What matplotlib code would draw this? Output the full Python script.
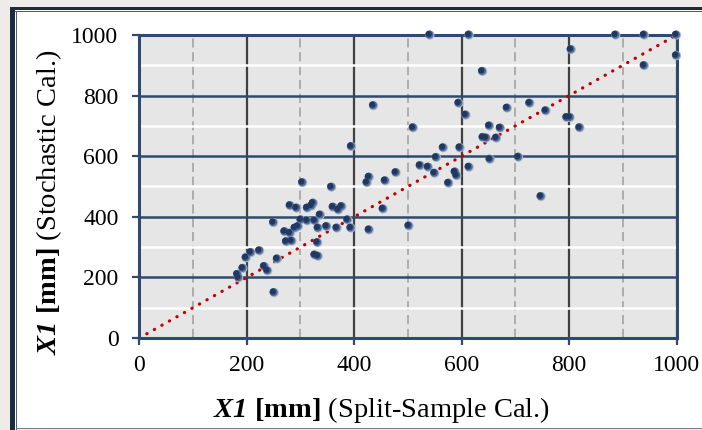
import matplotlib
matplotlib.use("Agg")
import matplotlib.pyplot as plt
from matplotlib.patches import Rectangle
from matplotlib.transforms import offset_copy
import numpy as np

# X1 from split-sample calibration vs X1 from stochastic calibration [mm]
split_x = np.array([183, 185, 193, 199, 208, 224, 233, 239, 251, 257,
                    250, 271, 281, 274, 284, 281, 293, 304, 313, 321,
                    324, 301, 313, 327, 337, 296, 290, 333, 349, 368,
                    332, 327, 333, 361, 377, 371, 358, 388, 394, 428,
                    502, 454, 395, 436, 424, 428, 458, 478, 510, 523,
                    538, 550, 588, 591, 576, 614, 553, 566, 597, 595,
                    608, 652, 672, 640, 646, 665, 653, 685, 706, 727,
                    757, 748, 796, 802, 820, 804, 639, 541, 614, 887,
                    940, 1000, 1000, 940])
stoch_y = np.array([210, 199, 230, 265, 282, 288, 236, 222, 150, 261,
                    381, 351, 346, 318, 320, 437, 429, 513, 429, 436,
                    445, 390, 387, 387, 406, 368, 363, 363, 368, 363,
                    315, 274, 270, 432, 434, 423, 498, 390, 363, 357,
                    370, 426, 632, 767, 513, 531, 519, 546, 694, 569,
                    564, 544, 548, 536, 511, 564, 596, 628, 628, 775,
                    736, 700, 693, 662, 660, 660, 590, 759, 597, 775,
                    750, 467, 728, 728, 694, 952, 880, 1000, 1000, 1000,
                    1000, 1000, 932, 899])
one_to_one = [0, 1000]
major_ticks = [0, 200, 400, 600, 800, 1000]
minor_ticks = [100, 300, 500, 700, 900]

plt.rcParams['font.family'] = 'Liberation Serif'
plt.rcParams['mathtext.fontset'] = 'custom'
plt.rcParams['mathtext.rm'] = 'Liberation Serif'
plt.rcParams['mathtext.bf'] = 'Liberation Serif:bold'
plt.rcParams['mathtext.it'] = 'Liberation Serif:italic'
plt.rcParams['mathtext.bfit'] = 'Liberation Serif:italic:bold'

W, H = 702, 430
fig = plt.figure(figsize=(W / 100, H / 100), dpi=100, facecolor='#EEEBE8')

def px_rect(x0, y0, x1, y1, color):
    # rectangle given in pixel coords (origin top-left)
    fig.add_artist(Rectangle((x0 / W, 1 - y1 / H), (x1 - x0) / W, (y1 - y0) / H,
                             transform=fig.transFigure, facecolor=color,
                             edgecolor='none', zorder=0))

# chart frame
px_rect(10, 7, W + 5, 428.5, 'white')
px_rect(10, 7, W + 5, 10, '#1B2B40')
px_rect(10, 7, 15, H + 5, '#1B2B40')
px_rect(15, 11, W + 5, 12, '#4A5F7A')
px_rect(15.5, 11, 16.5, H + 5, '#4A5F7A')
px_rect(16, 427.5, W + 5, 428.5, '#6D7F96')

ax = fig.add_axes([139.3 / W, 1 - 338 / H, 537.2 / W, 303 / H])
ax.set_facecolor('#E6E6E6')
ax.set_xlim(0, 1000)
ax.set_ylim(0, 1000)
ax.set_xticks(major_ticks)
ax.set_yticks(major_ticks)
ax.set_xticks(minor_ticks, minor=True)
ax.set_yticks(minor_ticks, minor=True)
ax.set_axisbelow(True)

ax.xaxis.grid(True, which='major', color='#404040', lw=1.6)
ax.xaxis.grid(True, which='minor', color='#A3A3A3', lw=1.2, ls=(0, (5.5, 2.8)))
ax.yaxis.grid(True, which='major', color='#2E4A6E', lw=1.8)
ax.yaxis.grid(True, which='minor', color='white', lw=1.8)

for s in ax.spines.values():
    s.set_color('#2E4A6E')
    s.set_linewidth(2.2)

ax.tick_params(which='major', direction='out', length=5, width=1.6,
               color='#2E4A6E', labelsize=17, labelcolor='black')
ax.tick_params(axis='y', pad=10)
ax.tick_params(axis='x', pad=7)
ax.tick_params(which='minor', length=0)

# 1:1 line
ax.plot(one_to_one, one_to_one, color='#C00000', lw=2.3,
        ls=(0, (0.1, 2.6)), dash_capstyle='round', zorder=2)

# shaded "sphere" markers
ax.scatter(split_x, stoch_y, s=44, color='#A5B4CC', edgecolors='none',
           zorder=3, clip_on=False)
ax.scatter(split_x, stoch_y, s=34, color='#506B94', edgecolors='none',
           zorder=4, clip_on=False,
           transform=offset_copy(ax.transData, fig, x=-0.4, y=0.3, units='points'))
ax.scatter(split_x, stoch_y, s=20, color='#213861', edgecolors='none',
           zorder=5, clip_on=False,
           transform=offset_copy(ax.transData, fig, x=-0.9, y=0.7, units='points'))

fig.text(381 / W, 1 - 417 / H,
         r'$\mathbfit{X1}$ $\mathbf{[mm]}$ (Split-Sample Cal.)',
         ha='center', va='baseline', fontsize=20.5)
fig.text(49 / W, 1 - 202 / H,
         r'$\mathbfit{X1}$ $\mathbf{[mm]}$ (Stochastic Cal.)',
         ha='center', va='center', rotation=90, fontsize=20.5)

fig.savefig('out.png', dpi=100, facecolor=fig.get_facecolor())
